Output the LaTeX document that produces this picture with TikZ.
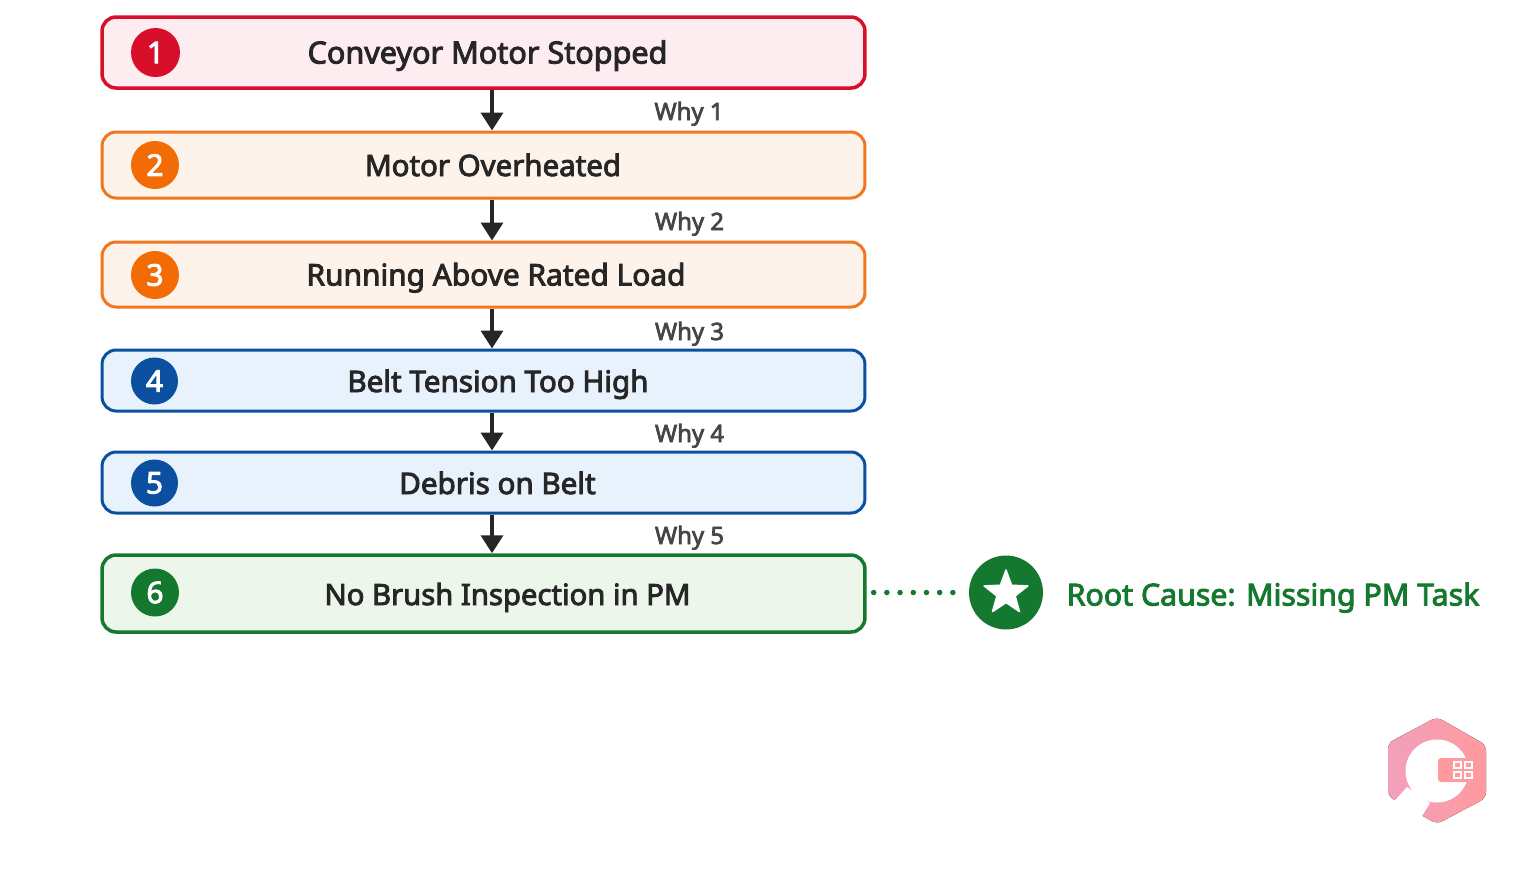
\documentclass[tikz,border=0pt]{standalone}
\usepackage{fontspec}
\setmainfont{Noto Sans}[AutoFakeBold=3]
\usetikzlibrary{arrows.meta,shapes.geometric}
\definecolor{redline}{HTML}{D70F2B}
\definecolor{redfill}{HTML}{FDEDF0}
\definecolor{orangeline}{HTML}{F0761F}
\definecolor{orangefill}{HTML}{FEF3EA}
\definecolor{orangedot}{HTML}{F26B05}
\definecolor{blueline}{HTML}{0B50A0}
\definecolor{bluefill}{HTML}{E8F2FC}
\definecolor{greenline}{HTML}{15782F}
\definecolor{greenfill}{HTML}{ECF6EA}
\definecolor{inkdark}{HTML}{262626}
\definecolor{inkgrey}{HTML}{454545}
\definecolor{logoleft}{HTML}{F2A0BC}
\definecolor{logoright}{HTML}{FF9A9E}
\tikzset{
	stepbox/.style={draw, rounded corners=0.28cm, minimum width=15.26cm, inner sep=0pt, line width=0.06cm},
	badge/.style={circle, inner sep=0pt, text=white, font=\fontsize{17}{20}\selectfont\bfseries},
	title/.style={anchor=base, inner sep=0pt, text=inkdark, font=\fontsize{#1}{20}\selectfont\bfseries},
	whylabel/.style={anchor=base, inner sep=0pt, text=inkgrey, font=\fontsize{13.6}{16}\selectfont\bfseries},
	flow/.style={draw=inkdark, line width=0.075cm, -{Triangle[width=0.44cm,length=0.36cm]}},
	qrcell/.style={draw=white, line width=0.05cm, fill=none}
}
\begin{document}
\begin{tikzpicture}[x=0.02cm,y=0.02cm]
	\useasboundingbox (0,0) rectangle (1536,-870);
	\node [stepbox, draw=redline, fill=redfill, line width=0.07cm, minimum height=1.42cm] (box1) at (483.5,-52.5) {};
	\node [stepbox, draw=orangeline, fill=orangefill, minimum height=1.32cm] (box2) at (483.5,-165) {};
	\node [stepbox, draw=orangeline, fill=orangefill, minimum height=1.30cm] (box3) at (483.5,-274.5) {};
	\node [stepbox, draw=blueline, fill=bluefill, minimum height=1.22cm] (box4) at (483.5,-380.5) {};
	\node [stepbox, draw=blueline, fill=bluefill, minimum height=1.22cm] (box5) at (483.5,-482.5) {};
	\node [stepbox, draw=greenline, fill=greenfill, line width=0.07cm, minimum height=1.54cm] (box6) at (483.5,-593.5) {};
	\node [badge, fill=redline, minimum size=0.98cm] (badge1) at (155.5,-52.5) {1};
	\node [badge, fill=orangedot, minimum size=0.96cm] (badge2) at (155,-165) {2};
	\node [badge, fill=orangedot, minimum size=0.96cm] (badge3) at (155,-275) {3};
	\node [badge, fill=blueline, minimum size=0.94cm] (badge4) at (154.5,-381) {4};
	\node [badge, fill=blueline, minimum size=0.94cm] (badge5) at (154.5,-483) {5};
	\node [badge, fill=greenline, minimum size=0.96cm] (badge6) at (155,-592.5) {6};
	\node [title=17.4] (title1) at (487.5,-63.5) {Conveyor Motor Stopped};
	\node [title=16.75] (title2) at (493,-176) {Motor Overheated};
	\node [title=17] (title3) at (496,-285.5) {Running Above Rated Load};
	\node [title=16.85] (title4) at (498,-392) {Belt Tension Too High};
	\node [title=16.85] (title5) at (497.5,-494) {Debris on Belt};
	\node [title=16.65] (title6) at (507.5,-605) {No Brush Inspection in PM};
	\draw [flow] ([xshift=0.17cm]box1.south) -- ([xshift=0.17cm]box2.north);
	\draw [flow] ([xshift=0.17cm]box2.south) -- ([xshift=0.17cm]box3.north);
	\draw [flow] ([xshift=0.17cm]box3.south) -- ([xshift=0.17cm]box4.north);
	\draw [flow] ([xshift=0.17cm]box4.south) -- ([xshift=0.17cm]box5.north);
	\draw [flow] ([xshift=0.17cm]box5.south) -- ([xshift=0.17cm]box6.north);
	\node [whylabel] (why1) at (689,-120) {Why 1};
	\node [whylabel] (why2) at (689.5,-230) {Why 2};
	\node [whylabel] (why3) at (689.5,-340) {Why 3};
	\node [whylabel] (why4) at (689.5,-442) {Why 4};
	\node [whylabel] (why5) at (689.5,-544) {Why 5};
	\node [circle, inner sep=0pt, fill=greenline, minimum size=1.48cm] (rootbadge) at (1006,-592.5) {};
	\node [star, star points=5, star point ratio=2.4, inner sep=0pt, fill=white, draw=white, line join=round, line width=0.03cm, minimum size=0.92cm] (rootstar) at (1006,-593) {};
	\node [title=17.25, text=greenline] (rootlabel) at (1273,-605.5) {Root Cause: Missing PM Task};
	\draw [greenline, line width=0.11cm, line cap=round, dash pattern=on 0pt off 0.264cm, shorten <=0.14cm, shorten >=0.26cm] (rootbadge.west -| box6.east) -- (rootbadge.west);
	\fill [left color=logoleft, right color=logoright, rounded corners=0.12cm] (1437,-717) -- (1486,-745) -- (1486,-798) -- (1437,-824) -- (1388,-796) -- (1388,-743) -- cycle;
	\fill [white] (1437,-771) circle (31.5);
	\fill [white] (1407,-787) -- (1388,-808) -- (1412,-832) -- (1430,-803) -- cycle;
	\fill [logoright, rounded corners=0.06cm] (1438,-758) rectangle (1474,-782);
	\draw [qrcell] (1454,-762) rectangle (1461,-768);
	\draw [qrcell] (1465,-762) rectangle (1472,-768);
	\draw [qrcell] (1454,-772) rectangle (1461,-778);
	\draw [qrcell] (1465,-772) rectangle (1472,-778);
\end{tikzpicture}
\end{document}
